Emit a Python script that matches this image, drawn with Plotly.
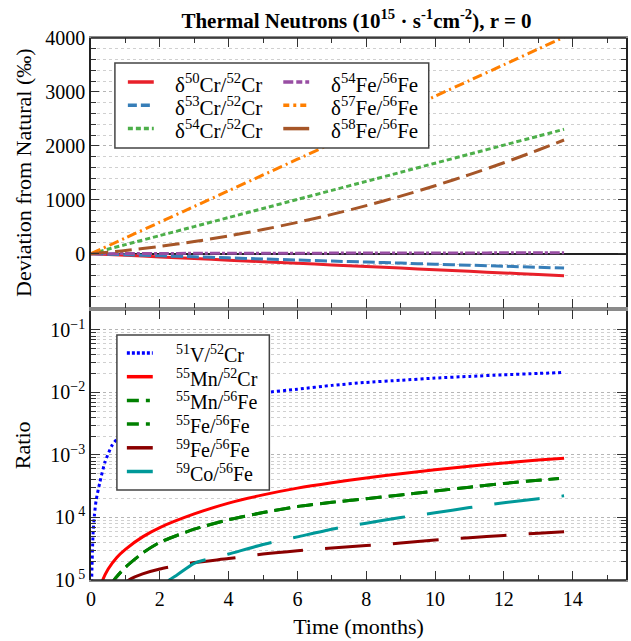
import plotly.graph_objects as go

# ---------------- data ----------------
t_top = [0, 1, 2, 3, 4, 5, 6, 7, 8, 9, 10, 11, 12, 13, 13.75]
d50cr = [0, -30, -59, -89, -119, -148, -178, -208, -238, -267, -297, -327, -356, -386, -408]
d53cr = [0, -19, -39, -58, -77, -97, -116, -136, -155, -174, -194, -213, -232, -252, -266]
d54cr = [0, 168, 336, 503, 671, 839, 1007, 1175, 1342, 1510, 1678, 1846, 2014, 2181, 2307]
d54fe = [0, 3, 5, 7, 8, 9, 10, 11, 12, 13, 14, 15, 16, 17, 18]
d57fe = [0, 292, 584, 876, 1168, 1460, 1752, 2044, 2336, 2628, 2920, 3212, 3504, 3796, 4015]
d58fe = [0, 60, 136, 225, 329, 448, 581, 729, 891, 1068, 1260, 1466, 1687, 1923, 2109]

t_v = [0.0, 0.02, 0.06, 0.1, 0.15, 0.25, 0.4, 0.62, 1, 1.5, 2, 3, 4, 5, 6, 7, 8, 9, 10, 11, 12, 13, 13.75]
v51_cr52 = [1e-6, 1e-5, 5.5e-5, 1.1e-4, 1.9e-4, 3.5e-4, 7.5e-4, 1.45e-3, 2.5e-3, 3.6e-3, 4.7e-3, 6.6e-3,
            8.4e-3, 9.9e-3, 1.13e-2, 1.3e-2, 1.45e-2, 1.57e-2, 1.7e-2, 1.81e-2, 1.92e-2, 2.02e-2, 2.09e-2]

t_mncr = [0.3, 0.34, 0.5, 0.75, 1, 1.5, 2, 3, 4, 5, 6, 7, 8, 9, 10, 11, 12, 13, 13.75]
mn55_cr52 = [8.5e-6, 1e-5, 1.5e-5, 2.3e-5, 3.1e-5, 4.9e-5, 6.9e-5, 1.14e-4, 1.7e-4, 2.3e-4, 2.95e-4,
             3.6e-4, 4.3e-4, 5.0e-4, 5.8e-4, 6.6e-4, 7.45e-4, 8.3e-4, 8.9e-4]

t_fe55 = [0.6, 0.67, 1, 1.5, 2, 3, 4, 5, 6, 7, 8, 9, 10, 11, 12, 13, 13.6]
fe55_fe56 = [8.5e-6, 1e-5, 1.6e-5, 2.7e-5, 4e-5, 6.5e-5, 9.2e-5, 1.2e-4, 1.5e-4, 1.75e-4, 2e-4,
             2.3e-4, 2.65e-4, 3.05e-4, 3.5e-4, 3.95e-4, 4.2e-4]
mn55_fe56 = fe55_fe56

t_fe59 = [1.0, 1.1, 1.5, 2, 3, 4, 5, 6, 7, 8, 9, 10, 11, 12, 13, 13.75]
fe59_fe56 = [9e-6, 1e-5, 1.25e-5, 1.5e-5, 1.9e-5, 2.2e-5, 2.6e-5, 2.95e-5, 3.25e-5, 3.55e-5, 3.9e-5,
             4.35e-5, 4.75e-5, 5.15e-5, 5.6e-5, 5.9e-5]

t_co59 = [2.2, 2.28, 2.5, 3, 4, 5, 6, 7, 8, 9, 10, 11, 12, 13, 13.75]
co59_fe56 = [9e-6, 1e-5, 1.2e-5, 1.85e-5, 2.6e-5, 3.7e-5, 4.9e-5, 6.5e-5, 8.1e-5, 1.0e-4, 1.19e-4,
             1.44e-4, 1.72e-4, 2.0e-4, 2.22e-4]

log_tickvals = [1e-5, 1e-4, 1e-3, 1e-2, 1e-1]
log_ticktext = ["10<sup> 5</sup>", "10<sup> 4</sup>", "10<sup>−3</sup>", "10<sup>−2</sup>", "10<sup>−1</sup>"]
top_tickvals = [0, 1000, 2000, 3000, 4000]

FONT = "Liberation Serif"

# plot-area geometry in pixels (used only to place legend boxes)
L, R, T, B = 91, 628, 38, 580
def px(x):
    return (x - L) / (R - L)
def py(y):
    return (B - y) / (B - T)

fig = go.Figure()
box_shapes = []
line_shapes = []
annotations = []

def legend_entry(x_line, x_text, y, name, color, dash, size):
    line_shapes.append(dict(type="line", xref="paper", yref="paper", x0=px(x_line), x1=px(x_line + 26),
                            y0=py(y), y1=py(y), line=dict(color=color, width=3.5, dash=dash),
                            layer="above"))
    annotations.append(dict(text=name, xref="paper", yref="paper", x=px(x_text), y=py(y + 1),
                            xanchor="left", yanchor="middle", showarrow=False,
                            font=dict(family=FONT, size=size, color="black")))

def top(x, y, name, color, dash, legdash, col, row):
    fig.add_trace(go.Scatter(x=x, y=y, mode="lines", name=name, xaxis="x", yaxis="y",
                             showlegend=False,
                             line=dict(color=color, width=3, dash=dash, shape="spline",
                                       smoothing=0.6)))
    xl = 128 if col == 0 else 284
    xt = 173 if col == 0 else 330
    legend_entry(xl, xt, 82 + 23.3 * row, name, color, legdash, 21)

top(t_top, d50cr, "δ<sup>50</sup>Cr/<sup>52</sup>Cr", "#e8202a", "solid", "solid", 0, 0)
top(t_top, d53cr, "δ<sup>53</sup>Cr/<sup>52</sup>Cr", "#377eb8", "12px,4px", "9px,4px", 0, 1)
top(t_top, d54cr, "δ<sup>54</sup>Cr/<sup>52</sup>Cr", "#4daf4a", "5px,3px", "5px,3px", 0, 2)
top(t_top, d54fe, "δ<sup>54</sup>Fe/<sup>56</sup>Fe", "#984ea3", "10px,2px,3px,2px", "10px,3px,6px,3px", 1, 0)
top(t_top, d57fe, "δ<sup>57</sup>Fe/<sup>56</sup>Fe", "#ff7f00", "10px,4px,2px,4px", "6px,4px,3px,4px", 1, 1)
top(t_top, d58fe, "δ<sup>58</sup>Fe/<sup>56</sup>Fe", "#a65628", "17px,7px", "solid", 1, 2)

def bot(x, y, name, color, dash, legdash, row):
    fig.add_trace(go.Scatter(x=x, y=y, mode="lines", name=name, xaxis="x2", yaxis="y2",
                             showlegend=False,
                             line=dict(color=color, width=3, dash=dash, shape="spline",
                                       smoothing=0.6)))
    legend_entry(127, 174, 353 + 23.7 * row, name, color, legdash, 20)

bot(t_v, v51_cr52, "<sup>51</sup>V/<sup>52</sup>Cr", "#0000ff", "3px,3px", "3px,2px", 0)
bot(t_mncr, mn55_cr52, "<sup>55</sup>Mn/<sup>52</sup>Cr", "#ff0000", "solid", "solid", 1)
bot(t_fe55, mn55_fe56, "<sup>55</sup>Mn/<sup>56</sup>Fe", "#008000", "16px,7px", "12px,7px,4px,7px", 2)
bot(t_fe55, fe55_fe56, "<sup>55</sup>Fe/<sup>56</sup>Fe", "#008000", "16px,7px", "12px,7px,4px,7px", 3)
bot(t_fe59, fe59_fe56, "<sup>59</sup>Fe/<sup>56</sup>Fe", "#8b0000", "46px,22px", "solid", 4)
bot(t_co59, co59_fe56, "<sup>59</sup>Co/<sup>56</sup>Fe", "#009999", "46px,22px", "solid", 5)

# legend boxes
box_shapes.append(dict(type="rect", xref="paper", yref="paper", x0=px(115), x1=px(430),
                       y0=py(148), y1=py(63), fillcolor="white",
                       line=dict(color="#444", width=1.5), layer="above"))
box_shapes.append(dict(type="rect", xref="paper", yref="paper", x0=px(117), x1=px(270),
                       y0=py(490), y1=py(335), fillcolor="white",
                       line=dict(color="#444", width=1.5), layer="above"))
# dark outer frame lines (top and bottom); the middle separator stays grey
frame_shapes = [
    dict(type="line", xref="paper", yref="paper", x0=0, x1=1, y0=1, y1=1,
         line=dict(color="#222", width=1.5), layer="above"),
    dict(type="line", xref="paper", yref="paper", x0=0, x1=1, y0=0, y1=0,
         line=dict(color="#222", width=1.5), layer="above"),
]

minor_log = [k * 10.0 ** e for e in range(-5, 0) for k in range(2, 10)]

axis_common = dict(showline=True, linewidth=1.5, ticks="inside",
                   tickcolor="#333", tickwidth=1.2, mirror="ticks",
                   tickfont=dict(family=FONT, size=20, color="black"))

fig.update_layout(
    width=631, height=641,
    margin=dict(l=L, r=631 - R, t=T, b=641 - B),
    paper_bgcolor="white", plot_bgcolor="white",
    font=dict(family=FONT, color="black"),
    showlegend=False,
    title=dict(text="<b>Thermal Neutrons (10<sup>15</sup> · s<sup>-1</sup>cm<sup>-2</sup>), r = 0</b>",
               x=0.565, xanchor="center", y=0.968, yanchor="middle",
               font=dict(family=FONT, size=21, color="black")),
    xaxis=dict(domain=[0, 1], anchor="y", range=[0, 15.55], showticklabels=False,
               dtick=2, tick0=0, ticklen=9, showgrid=False, zeroline=False, linecolor="#8a8a8a",
               minor=dict(dtick=1, ticklen=5, ticks="inside", tickcolor="#333"),
               **axis_common),
    yaxis=dict(domain=[0.503, 1], anchor="x", range=[-995, 4000], tickmode="array",
               tickvals=top_tickvals, ticklen=8, linecolor="#222",
               showgrid=True, gridcolor="#b5b5b5", griddash="dot", gridwidth=1,
               zeroline=True, zerolinecolor="#222", zerolinewidth=1.5,
               minor=dict(tickmode="linear", tick0=0, dtick=200, ticklen=5, ticks="inside",
                          tickcolor="#333", showgrid=True, gridcolor="#d0d0d0",
                          griddash="dot", gridwidth=1),
               title=dict(text="Deviation from Natural (‰)", font=dict(family=FONT, size=22),
                          standoff=8),
               **axis_common),
    xaxis2=dict(domain=[0, 1], anchor="y2", range=[0, 15.55], dtick=2, tick0=0, ticklen=9,
                showgrid=False, zeroline=False, linecolor="#8a8a8a",
                minor=dict(dtick=1, ticklen=5, ticks="inside", tickcolor="#333"),
                title=dict(text="Time (months)", font=dict(family=FONT, size=22), standoff=10),
                **axis_common),
    yaxis2=dict(domain=[0, 0.497], anchor="x2", type="log", range=[-5, -0.69],
                tickmode="array", tickvals=log_tickvals, ticktext=log_ticktext, ticklen=9,
                linecolor="#222",
                showgrid=True, gridcolor="#b5b5b5", griddash="dot", gridwidth=1,
                minor=dict(tickmode="array", tickvals=minor_log, ticklen=5, ticks="inside",
                           tickcolor="#333", showgrid=True, gridcolor="#d0d0d0",
                           griddash="dot", gridwidth=1),
                title=dict(text="Ratio", font=dict(family=FONT, size=22), standoff=14),
                **axis_common),
    shapes=box_shapes + line_shapes + frame_shapes,
    annotations=annotations,
)

fig.write_html("out.html")
